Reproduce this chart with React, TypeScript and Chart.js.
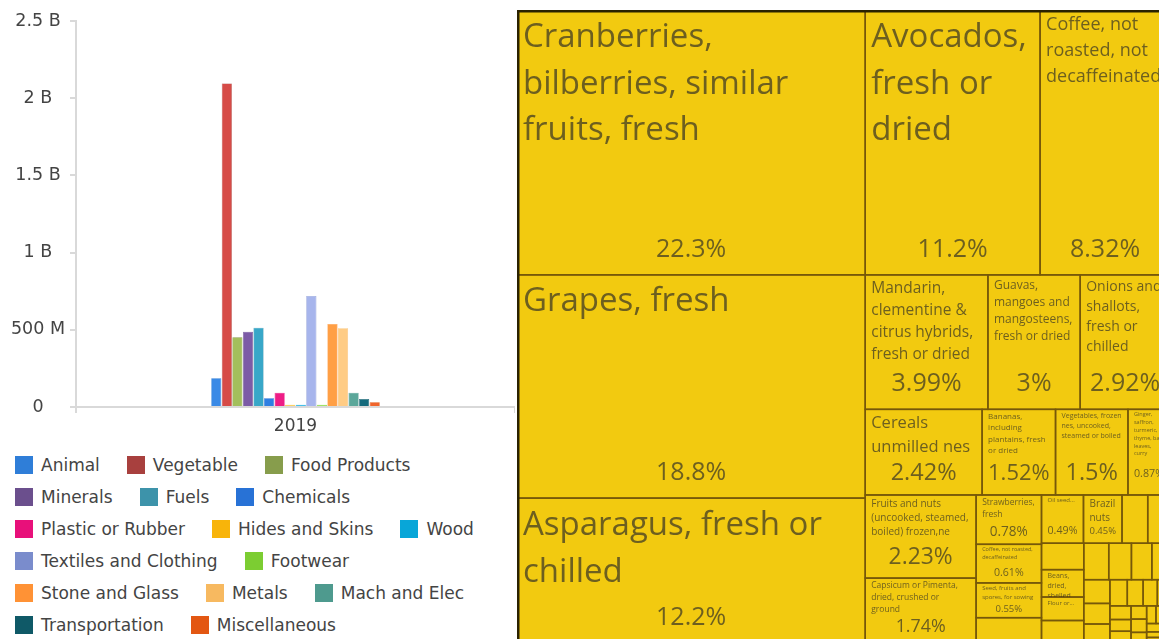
import React, { useEffect, useRef } from "react";
import { Chart, registerables } from "chart.js";

Chart.register(...registerables);

// ---------------- Bar chart data ----------------
const YEAR_LABELS = ["2019"];
const SECTION_NAMES = [
  "Animal", "Vegetable", "Food Products", "Minerals", "Fuels", "Chemicals",
  "Plastic or Rubber", "Hides and Skins", "Wood", "Textiles and Clothing", "Footwear",
  "Stone and Glass", "Metals", "Mach and Elec", "Transportation", "Miscellaneous",
];
const SECTION_VALUES = [
  186e6, 2096e6, 451e6, 488e6, 514e6, 56e6,
  93e6, 15e6, 15e6, 719e6, 15e6,
  538e6, 510e6, 93e6, 52e6, 30e6,
];
const Y_TICK_VALUES = [0, 500e6, 1e9, 1.5e9, 2e9, 2.5e9];
const Y_TICK_LABELS = ["0", "500 M", "1 B", "1.5 B", "2 B", "2.5 B"];

// ---------------- Treemap data ----------------
const PRODUCT_NAMES = [
  "Cranberries, bilberries, similar fruits, fresh",
  "Grapes, fresh",
  "Asparagus, fresh or chilled",
  "Avocados, fresh or dried",
  "Coffee, not roasted, not decaffeinated",
  "Mandarin, clementine & citrus hybrids, fresh or dried",
  "Guavas, mangoes and mangosteens, fresh or dried",
  "Onions and shallots, fresh or chilled",
  "Cereals unmilled nes",
  "Bananas, including plantains, fresh or dried",
  "Vegetables, frozen nes, uncooked, steamed or boiled",
  "Ginger, saffron, turmeric, thyme, bay leaves, curry",
  "Fruits and nuts (uncooked, steamed, boiled) frozen,ne",
  "Capsicum or Pimenta, dried, crushed or ground",
  "Strawberries, fresh",
  "Coffee, not roasted, decaffeinated",
  "Seed, fruits and spores, for sowing",
  "",
  "Oil seeds and oleaginous fruits nes",
  "Brazil nuts",
  "Cut flowers and flower buds",
  "",
  "",
  "Beans, dried, shelled",
  "Flour or meal of dried vegetables",
];
const PRODUCT_SHARES = [
  22.3, 18.8, 12.2,
  11.2, 8.32,
  3.99, 3.0, 2.92,
  2.42, 1.52, 1.5, 0.87,
  2.23, 1.74,
  0.78, 0.61, 0.55, 0.4,
  0.49, 0.45, 0.3, 0.26,
  0.27, 0.28, 0.24, 0.23,
  0.22, 0.2, 0.18, 0.16, 0.15, 0.13, 0.12, 0.11, 0.1, 0.09, 0.08, 0.07, 0.06,
  0.06, 0.05, 0.05, 0.04, 0.04, 0.03, 0.03, 0.03, 0.02, 0.02, 0.02, 0.02,
];
const STRIP_COUNTS = [3, 2, 3, 4, 2, 4, 4, 4];
const STRIP_DIRECTIONS = ["col", "row", "row", "row", "col", "col", "row", "col"];

// ---------------- Styles ----------------
const LEFT_FONT = '"DejaVu Sans", Verdana, sans-serif';
const TREE_FONT = '"Open Sans", sans-serif';
const AXIS_COLOR = "#d9d9d9";
const TICK_COLOR = "#444444";
const LEGEND_COLORS = [
  "#2f7ed8", "#a8403e", "#879d4c", "#6b4f8d", "#3d93aa", "#2872d6",
  "#e8107a", "#f8b40a", "#08a6d8", "#7a8ccc", "#7ccd32",
  "#ff9235", "#f7b960", "#4e9a8e", "#0f5967", "#e35712",
];
const BAR_COLORS = [
  "#3a8ae6", "#d64b47", "#a3bf5c", "#7c5ba6", "#38a7c8", "#2f7fe2",
  "#ee1d86", "#f9c84a", "#22b2e4", "#a7b5ec", "#8ddc48",
  "#ff9f45", "#ffcc85", "#5ba79a", "#146a7c", "#f0652c",
];
const CELL_FILL = "rgb(242,202,16)";
const CELL_STROKE = "#76580a";
const OUTER_STROKE = "#2a2200";
const CELL_TEXT = "rgba(40,40,40,0.66)";

type Rect = { x0: number; y0: number; x1: number; y1: number };

function layoutTreemap(values: number[], counts: number[], dirs: string[], aspect: number): Rect[] {
  const rects: Rect[] = [];
  let x0 = 0, y0 = 0;
  const x1 = aspect, y1 = 1;
  let remaining = values.reduce((a, b) => a + b, 0);
  let i = 0;
  const place = (items: number[], dir: string) => {
    const sum = items.reduce((a, b) => a + b, 0);
    const frac = remaining > 0 ? Math.min(1, sum / remaining) : 1;
    if (dir === "col") {
      const w = (x1 - x0) * frac;
      let y = y0;
      for (const v of items) {
        const hh = ((y1 - y0) * v) / sum;
        rects.push({ x0: x0, y0: y, x1: x0 + w, y1: y + hh });
        y += hh;
      }
      x0 += w;
    } else {
      const h = (y1 - y0) * frac;
      let x = x0;
      for (const v of items) {
        const ww = ((x1 - x0) * v) / sum;
        rects.push({ x0: x, y0: y0, x1: x + ww, y1: y0 + h });
        x += ww;
      }
      y0 += h;
    }
    remaining -= sum;
  };
  counts.forEach((n, k) => {
    place(values.slice(i, i + n), dirs[k]);
    i += n;
  });
  // remaining small items: squarified (golden ratio) layout
  const ratio = (1 + Math.sqrt(5)) / 2;
  while (i < values.length) {
    const dx = x1 - x0, dy = y1 - y0;
    let sum = values[i];
    let minV = sum, maxV = sum;
    const alpha = Math.max(dy / dx, dx / dy) / (remaining * ratio);
    let beta = sum * sum * alpha;
    let minRatio = Math.max(maxV / beta, beta / minV);
    let j = i + 1;
    for (; j < values.length; j++) {
      const v = values[j];
      const s2 = sum + v;
      const mn = Math.min(minV, v), mx = Math.max(maxV, v);
      beta = s2 * s2 * alpha;
      const nr = Math.max(mx / beta, beta / mn);
      if (nr > minRatio) break;
      sum = s2; minV = mn; maxV = mx; minRatio = nr;
    }
    place(values.slice(i, j), dx < dy ? "row" : "col");
    i = j;
  }
  return rects.map((r) => ({ x0: r.x0 / aspect, x1: r.x1 / aspect, y0: r.y0, y1: r.y1 }));
}

function wrapText(ctx: CanvasRenderingContext2D, text: string, maxW: number): string[] | null {
  const words = text.split(" ");
  const lines: string[] = [];
  let cur = "";
  for (const w of words) {
    if (ctx.measureText(w).width > maxW) return null;
    const t = cur ? cur + " " + w : w;
    if (ctx.measureText(t).width <= maxW) cur = t;
    else {
      lines.push(cur);
      cur = w;
    }
  }
  if (cur) lines.push(cur);
  return lines;
}

const fmtShare = (v: number) => `${parseFloat(v.toPrecision(3))}%`;

function drawCellLabels(ctx: CanvasRenderingContext2D, name: string, share: number, x: number, y: number, w: number, h: number) {
  if (!name) return;
  const pad = 6;
  ctx.save();
  ctx.beginPath();
  ctx.rect(x, y, w, h);
  ctx.clip();
  ctx.fillStyle = CELL_TEXT;

  const sh = Math.min(50, h / 2);
  const showShare = h >= 30 && w >= 28;
  let sf = Math.min(25, sh * 0.55);
  const shareText = fmtShare(share);
  ctx.font = `${sf}px ${TREE_FONT}`;
  const tw = ctx.measureText(shareText).width;
  if (tw > w - 2 * pad) sf = (sf * (w - 2 * pad)) / tw;

  const availW = w - 2 * pad;
  const availH = (showShare ? h - sh : h) + 4;
  let chosen: { f: number; lines: string[] } | null = null;
  for (let f = 33; f >= 5.5; f -= 0.5) {
    ctx.font = `${f}px ${TREE_FONT}`;
    const lines = wrapText(ctx, name, availW);
    if (!lines) continue;
    const blockH = (lines.length - 1) * 1.42 * f + 1.35 * f;
    if (blockH <= availH) {
      chosen = { f, lines };
      break;
    }
  }
  if (!chosen && h >= 20 && w >= 28) {
    const f = 6;
    ctx.font = `${f}px ${TREE_FONT}`;
    let t = name;
    while (t.length > 1 && ctx.measureText(t + "...").width > availW) t = t.slice(0, -1);
    chosen = { f, lines: [t.trim() + "..."] };
  }
  if (chosen) {
    const { f, lines } = chosen;
    ctx.font = `${f}px ${TREE_FONT}`;
    ctx.textAlign = "left";
    ctx.textBaseline = "alphabetic";
    lines.forEach((ln, k) => {
      ctx.fillText(ln, x + pad, y + 1 + 1.08 * f + k * 1.42 * f);
    });
  }
  if (showShare && sf >= 5) {
    ctx.font = `${sf}px ${TREE_FONT}`;
    ctx.textAlign = "center";
    ctx.textBaseline = "middle";
    ctx.fillText(shareText, x + w / 2, y + h - sh / 2);
  }
  ctx.restore();
}

const treemapPlugin = {
  id: "treemapCells",
  afterDatasetsDraw(chart: any) {
    const { ctx, chartArea, scales } = chart;
    const xs = scales.x, ys = scales.y;
    const W = chartArea.right - chartArea.left;
    const H = chartArea.bottom - chartArea.top;
    const rects = layoutTreemap(PRODUCT_SHARES, STRIP_COUNTS, STRIP_DIRECTIONS, W / H);
    ctx.save();
    const pix = rects.map((r) => {
      const px0 = xs.getPixelForValue(r.x0), px1 = xs.getPixelForValue(r.x1);
      const py0 = ys.getPixelForValue(r.y0), py1 = ys.getPixelForValue(r.y1);
      return { x: px0, y: py0, w: px1 - px0, h: py1 - py0 };
    });
    pix.forEach((p) => {
      ctx.fillStyle = CELL_FILL;
      ctx.fillRect(p.x, p.y, p.w, p.h);
    });
    ctx.strokeStyle = CELL_STROKE;
    ctx.lineWidth = 1.5;
    pix.forEach((p) => ctx.strokeRect(p.x, p.y, p.w, p.h));
    pix.forEach((p, i) => drawCellLabels(ctx, PRODUCT_NAMES[i] ?? "", PRODUCT_SHARES[i], p.x, p.y, p.w, p.h));
    ctx.strokeStyle = OUTER_STROKE;
    ctx.lineWidth = 2.5;
    ctx.strokeRect(chartArea.left + 1.25, chartArea.top + 1.25, W - 2.5, H - 2.5);
    ctx.restore();
  },
};

export default function App() {
  const barRef = useRef<HTMLCanvasElement | null>(null);
  const treeRef = useRef<HTMLCanvasElement | null>(null);

  useEffect(() => {
    let barChart: Chart | null = null;
    let treeChart: Chart | null = null;
    let cancelled = false;

    const build = () => {
      if (cancelled || !barRef.current || !treeRef.current) return;
      barChart = new Chart(barRef.current, {
        type: "bar",
        data: {
          labels: YEAR_LABELS,
          datasets: SECTION_NAMES.map((name, i) => ({
            label: name,
            data: [SECTION_VALUES[i]],
            backgroundColor: BAR_COLORS[i],
            borderColor: LEGEND_COLORS[i],
            borderWidth: 0.6,
            categoryPercentage: 0.385,
            barPercentage: 0.96,
          })),
        },
        options: {
          animation: false,
          responsive: true,
          maintainAspectRatio: false,
          layout: { padding: { top: 21, left: 0, right: 0, bottom: 0 } },
          plugins: { legend: { display: false }, tooltip: { enabled: false } },
          scales: {
            x: {
              grid: { display: true, drawOnChartArea: false, tickLength: 6, color: AXIS_COLOR, lineWidth: 2 },
              border: { display: true, color: AXIS_COLOR, width: 2 },
              ticks: { font: { family: LEFT_FONT, size: 17 }, color: TICK_COLOR, padding: 3 },
              afterFit: (s: any) => { s.height = 33; },
            },
            y: {
              min: 0,
              max: 2.5e9,
              grid: { display: true, drawOnChartArea: false, tickLength: 6, color: AXIS_COLOR, lineWidth: 2 },
              border: { display: true, color: AXIS_COLOR, width: 2 },
              ticks: {
                font: { family: LEFT_FONT, size: 17.5 },
                color: TICK_COLOR,
                padding: 5,
                crossAlign: "center",
                callback: (v: any) => {
                  const idx = Y_TICK_VALUES.indexOf(Number(v));
                  return idx >= 0 ? Y_TICK_LABELS[idx] : "";
                },
              },
              afterBuildTicks: (s: any) => { s.ticks = Y_TICK_VALUES.map((v) => ({ value: v })); },
              afterFit: (s: any) => { s.width = 76; },
            },
          },
        },
      } as any);

      treeChart = new Chart(treeRef.current, {
        type: "scatter",
        data: { datasets: [{ data: [] }] },
        options: {
          animation: false,
          responsive: true,
          maintainAspectRatio: false,
          layout: { padding: 0 },
          plugins: { legend: { display: false }, tooltip: { enabled: false } },
          scales: {
            x: { type: "linear", min: 0, max: 1, display: false },
            y: { type: "linear", min: 0, max: 1, reverse: true, display: false },
          },
        },
        plugins: [treemapPlugin],
      } as any);
    };

    const fontsReady = (document as any).fonts
      ? Promise.all([
          (document as any).fonts.load('17px "DejaVu Sans"'),
          (document as any).fonts.load('20px "Open Sans"'),
        ]).catch(() => null)
      : Promise.resolve(null);
    fontsReady.then(build);

    return () => {
      cancelled = true;
      if (barChart) barChart.destroy();
      if (treeChart) treeChart.destroy();
    };
  }, []);

  return (
    <div style={{ position: "fixed", left: 0, top: 0, width: 1159, height: 639, overflow: "hidden", background: "#ffffff" }}>
      <div style={{ position: "absolute", left: 0, top: 0, width: 515, height: 440 }}>
        <canvas ref={barRef} />
      </div>
      <div
        style={{
          position: "absolute",
          left: 15,
          top: 456,
          width: 500,
          display: "flex",
          flexWrap: "wrap",
          columnGap: 27,
          rowGap: 14,
          fontFamily: LEFT_FONT,
          fontSize: 17,
          color: TICK_COLOR,
        }}
      >
        {SECTION_NAMES.map((name, i) => (
          <div key={name} style={{ display: "flex", alignItems: "center", height: 18, whiteSpace: "nowrap" }}>
            <span style={{ display: "inline-block", width: 18, height: 18, background: LEGEND_COLORS[i], marginRight: 8 }} />
            <span style={{ lineHeight: "18px" }}>{name}</span>
          </div>
        ))}
      </div>
      <div style={{ position: "absolute", left: 517, top: 10, width: 653, height: 633 }}>
        <canvas ref={treeRef} />
      </div>
    </div>
  );
}
